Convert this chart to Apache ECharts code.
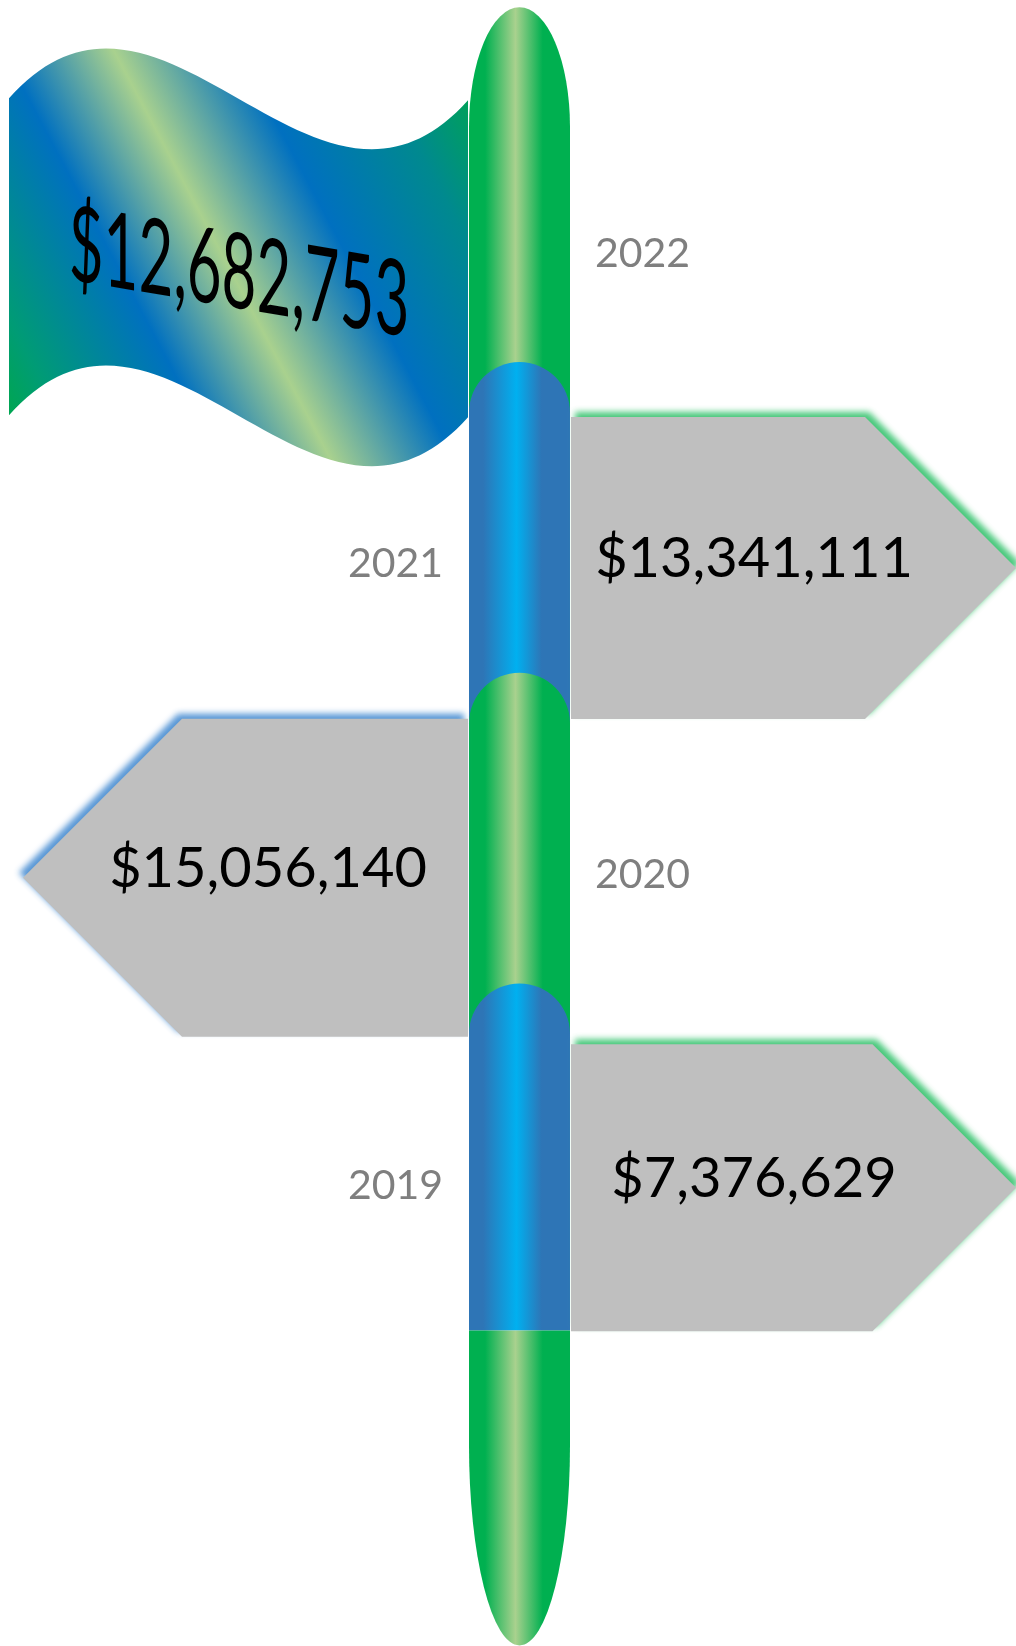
<!DOCTYPE html>
<html>
<head>
<meta charset="utf-8">
<script src="https://cdn.jsdelivr.net/npm/echarts@6/dist/echarts.min.js"></script>
<style>
html,body{margin:0;padding:0;background:#ffffff;}
#c{width:1016px;height:1646px;}
</style>
</head>
<body>
<div id="c"></div>
<script>
// ---- data ----
const years = [2019, 2020, 2021, 2022];
const amounts = [7376629, 15056140, 13341111, 12682753];

// ---- layout / style constants ----
const POLE_X = 519.5;      // x axis maps 1:1 to pixels
const POLE_R = 50.5;
const SIGN_LEN = 445;
// sign extent above / below the year position, by position from the top (1..3)
const SIGN_EXTENT = {1: [147, 155], 2: [156, 162], 3: [141, 146]};
const GREEN_GRAD = [
  {offset:0, color:'#00B050'},{offset:0.16, color:'#00B050'},
  {offset:0.46, color:'#A9D18E'},{offset:0.73, color:'#00B050'},{offset:1, color:'#00B050'}];
const BLUE_GRAD = [
  {offset:0, color:'#2E75B6'},{offset:0.14, color:'#2E75B6'},
  {offset:0.47, color:'#00B0F0'},{offset:0.72, color:'#2E75B6'},{offset:1, color:'#2E75B6'}];
const FLAG_GRAD = [
  {offset:0, color:'#00A651'},{offset:0.08, color:'#009C74'},
  {offset:0.30, color:'#0070C0'},{offset:0.477, color:'#A9D18E'},
  {offset:0.676, color:'#0070C0'},{offset:0.88, color:'#00898F'},{offset:1, color:'#00A05C'}];

// top-to-bottom order (latest year on top)
const order = years.map((y, i) => i).sort((a, b) => years[b] - years[a]);
const seriesData = order.map(i => [POLE_X, years[i], amounts[i]]);

function fmt(v) { return '$' + Number(v).toLocaleString('en-US'); }

// decompose the shear [[1,0],[k,s]] into R(phi)*diag(s1,s2)*R(theta) (y-down, clockwise positive)
function shearDecomp(k, s) {
  const a = 1, b = 0, c = k, d = s;
  const E = (a + d) / 2, F = (a - d) / 2, G = (c + b) / 2, H = (c - b) / 2;
  const Q = Math.hypot(E, H), R = Math.hypot(F, G);
  const a1 = Math.atan2(G, F), a2 = Math.atan2(H, E);
  return {s1: Q + R, s2: Q - R, theta: (a2 - a1) / 2, phi: (a2 + a1) / 2};
}

function renderItem(params, api) {
  const k = params.dataIndex;
  const n = seriesData.length;
  const year = api.value(1), amount = api.value(2);
  const p = api.coord([api.value(0), year]);
  const cx = p[0], cy = p[1];
  const unit = api.size([0, 1])[1];
  const L = cx - POLE_R, R = cx + POLE_R;
  const ch = [];
  const isFlag = k === 0, isLast = k === n - 1;
  const grad = (k % 2 === 0) ? GREEN_GRAD : BLUE_GRAD;

  // pole segment
  const top = isFlag ? cy - 0.792 * unit : cy - 0.65 * unit;
  const bot = isLast ? cy + 0.467 * unit : cy + 0.65 * unit;
  const capR = isFlag ? 120 : POLE_R;
  ch.push({
    type: 'path',
    shape: {pathData: `M${L} ${top + capR} A${POLE_R} ${capR} 0 0 1 ${R} ${top + capR} L${R} ${bot} L${L} ${bot} Z`},
    style: {fill: new echarts.graphic.LinearGradient(0, 0, 1, 0, grad)}
  });
  if (isLast) {
    const g2 = (n % 2 === 0) ? GREEN_GRAD : BLUE_GRAD;
    const endY = bot + 315, ry = 200;
    ch.push({
      type: 'path',
      shape: {pathData: `M${L} ${bot} L${R} ${bot} L${R} ${endY - ry} A${POLE_R} ${ry} 0 0 1 ${L} ${endY - ry} Z`},
      style: {fill: new echarts.graphic.LinearGradient(0, 0, 1, 0, g2)}
    });
  }

  if (isFlag) {
    const xr = L - 1, xl = L - 460, W = xr - xl, yt = cy - 155, hgt = 317, a = 173;
    const d = `M${xl} ${yt} C${xl + W / 3} ${yt - a} ${xl + 2 * W / 3} ${yt + a} ${xr} ${yt + 2} ` +
              `L${xr} ${yt + hgt + 2} C${xl + 2 * W / 3} ${yt + hgt + a} ${xl + W / 3} ${yt + hgt - a} ${xl} ${yt + hgt} Z`;
    const ax = xl, ay = yt + hgt;
    ch.push({
      type: 'path',
      shape: {pathData: d},
      style: {fill: new echarts.graphic.LinearGradient(ax, ay, ax + 488, ay - 259, FLAG_GRAD, true)}
    });
    // sheared, stretched WordArt-like value
    const sd = shearDecomp(0.17, 1.75);
    ch.push({
      type: 'group', x: L - 230, y: cy + 21,
      rotation: -sd.phi, scaleX: sd.s1, scaleY: sd.s2,
      children: [{
        type: 'text', x: 0, y: 0, rotation: -sd.theta,
        style: {text: fmt(amount), font: '60px Lato', fill: '#000000', align: 'center', verticalAlign: 'middle',
                textAlign: 'center', textVerticalAlign: 'middle'}
      }]
    });
    ch.push({
      type: 'text', x: R + 25, y: cy,
      style: {text: String(year), font: '41px Lato', fill: '#7F7F7F', align: 'left', verticalAlign: 'middle',
              textAlign: 'left', textVerticalAlign: 'middle'}
    });
  } else {
    const right = (k % 2 === 1);
    const s = right ? 1 : -1;
    const ext = SIGN_EXTENT[k];
    const yTop = cy - ext[0], yBot = cy + ext[1];
    const ym = (yTop + yBot) / 2, hh = (yBot - yTop) / 2;
    const x0 = right ? R + 1 : L - 1;
    const tip = x0 + s * SIGN_LEN;
    const sh = tip - s * hh;
    ch.push({
      type: 'polygon',
      shape: {points: [[x0, yTop], [sh, yTop], [tip, ym], [sh, yBot], [x0, yBot]]},
      style: {fill: '#BFBFBF', shadowBlur: 6,
              shadowColor: right ? 'rgba(40,190,100,0.85)' : 'rgba(70,140,210,0.9)',
              shadowOffsetX: s * 4, shadowOffsetY: -5}
    });
    ch.push({
      type: 'text', x: right ? R + 184 : L - 201, y: ym - 9,
      style: {text: fmt(amount), font: '56px Lato', fill: '#000000', align: 'center', verticalAlign: 'middle',
              textAlign: 'center', textVerticalAlign: 'middle'}
    });
    ch.push({
      type: 'text', x: right ? L - 26 : R + 25, y: cy,
      style: {text: String(year), font: '41px Lato', fill: '#7F7F7F',
              align: right ? 'right' : 'left', verticalAlign: 'middle',
              textAlign: right ? 'right' : 'left', textVerticalAlign: 'middle'}
    });
  }
  return {type: 'group', children: ch};
}

const chart = echarts.init(document.getElementById('c'), null, {renderer: 'canvas'});
chart.setOption({
  animation: false,
  backgroundColor: '#ffffff',
  grid: {left: 0, right: 0, top: 98, bottom: 150},
  xAxis: {type: 'value', min: 0, max: 1016, show: false},
  yAxis: {type: 'value', min: 2018, max: 2022.5, show: false},
  series: [{
    type: 'custom',
    renderItem: renderItem,
    data: seriesData,
    encode: {x: 0, y: 1},
    clip: false,
    silent: true
  }]
});
</script>
</body>
</html>
